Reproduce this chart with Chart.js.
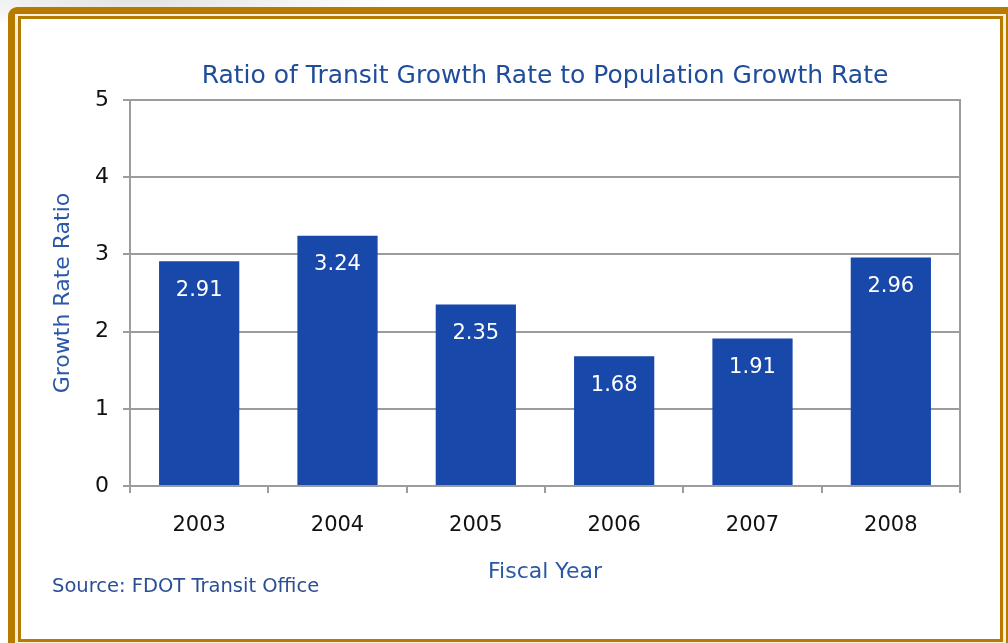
<!DOCTYPE html>
<html>
<head>
<meta charset="utf-8">
<script src="https://cdn.jsdelivr.net/npm/chart.js@4"></script>
<style>
  body { margin: 0; width: 1008px; height: 643px; overflow: hidden; position: relative;
         background: radial-gradient(ellipse 260px 30px at 140px 0px, #e2e2e2, #ffffff); }
  .frame-outer { position: absolute; left: 8px; top: 7px; width: 1010px; height: 650px;
                 background: #b67a00; border-top-left-radius: 9px; }
  .frame-gap { position: absolute; left: 15px; top: 14px; width: 991px; height: 640px; background: #f7eedb; }
  .frame-inner { position: absolute; left: 18px; top: 16px; width: 985px; height: 626px;
                 box-sizing: border-box; border: 3px solid #b67a00; background: #fff; }
  .source { position: absolute; left: 52px; top: 574px; font: 19.5px "DejaVu Sans", sans-serif;
            color: #2b4e93; }
  canvas { position: absolute; left: 0; top: 0; }
</style>
</head>
<body>
<div class="frame-outer"></div>
<div class="frame-gap"></div>
<div class="frame-inner"></div>
<canvas id="myChart" width="1008" height="643"></canvas>
<div class="source">Source: FDOT Transit Office</div>
<script>
const years = ['2003', '2004', '2005', '2006', '2007', '2008'];
const ratios = [2.91, 3.24, 2.35, 1.68, 1.91, 2.96];
const yTicks = [0, 1, 2, 3, 4, 5];

const fontName = '"DejaVu Sans", sans-serif';
const gridGray = '#9c9c9c';

// white numbers inside the top of every bar
const valueLabels = {
  id: 'valueLabels',
  afterDatasetsDraw(chart) {
    const ctx = chart.ctx;
    const meta = chart.getDatasetMeta(0);
    ctx.save();
    ctx.fillStyle = '#ffffff';
    ctx.font = '21px ' + fontName;
    ctx.textAlign = 'center';
    ctx.textBaseline = 'middle';
    meta.data.forEach(function (bar, i) {
      ctx.fillText(ratios[i].toFixed(2), bar.x, bar.y + 29);
    });
    ctx.restore();
  }
};

const ctx = document.getElementById('myChart');

new Chart(ctx, {
  type: 'bar',
  data: {
    labels: years,
    datasets: [{
      label: 'Ratio',
      data: ratios,
      backgroundColor: '#1848a9',
      borderWidth: 0,
      barPercentage: 0.58,
      categoryPercentage: 1
    }]
  },
  options: {
    responsive: false,
    animation: false,
    layout: { padding: { left: 0, right: 48, top: 0, bottom: 43 } },
    plugins: {
      legend: { display: false },
      tooltip: { enabled: false },
      title: {
        display: true,
        fullSize: false,
        text: 'Ratio of Transit Growth Rate to Population Growth Rate',
        color: '#1f4c9b',
        font: { family: fontName, size: 25, weight: 'normal' },
        padding: { top: 61, bottom: 9 }
      }
    },
    scales: {
      x: {
        grid: { display: true, drawOnChartArea: false, color: gridGray, lineWidth: 2, tickLength: 7 },
        border: { display: true, color: gridGray, width: 2 },
        ticks: { color: '#111', font: { family: fontName, size: 21 }, padding: 20 },
        title: {
          display: true, text: 'Fiscal Year', color: '#2b58a6',
          font: { family: fontName, size: 22 }, padding: { top: 0, bottom: 15 }
        },
        afterFit: function (scale) { scale.height = 114; }
      },
      y: {
        min: 0, max: 5,
        afterBuildTicks: function (scale) { scale.ticks = yTicks.map(v => ({ value: v })); },
        grid: { color: gridGray, lineWidth: 2, tickLength: 7 },
        border: { display: true, color: gridGray, width: 2 },
        ticks: { color: '#111', font: { family: fontName, size: 22 }, padding: 14 },
        title: {
          display: true, text: 'Growth Rate Ratio', color: '#2b58a6',
          font: { family: fontName, size: 22 }, padding: { top: 50, bottom: 0 }
        },
        afterFit: function (scale) { scale.width = 130; }
      },
      yRight: {
        position: 'right', min: 0, max: 5,
        grid: { display: false },
        ticks: { display: false },
        border: { display: true, color: gridGray, width: 2 },
        afterFit: function (scale) { scale.width = 0; }
      }
    }
  },
  plugins: [valueLabels]
});
</script>
</body>
</html>
